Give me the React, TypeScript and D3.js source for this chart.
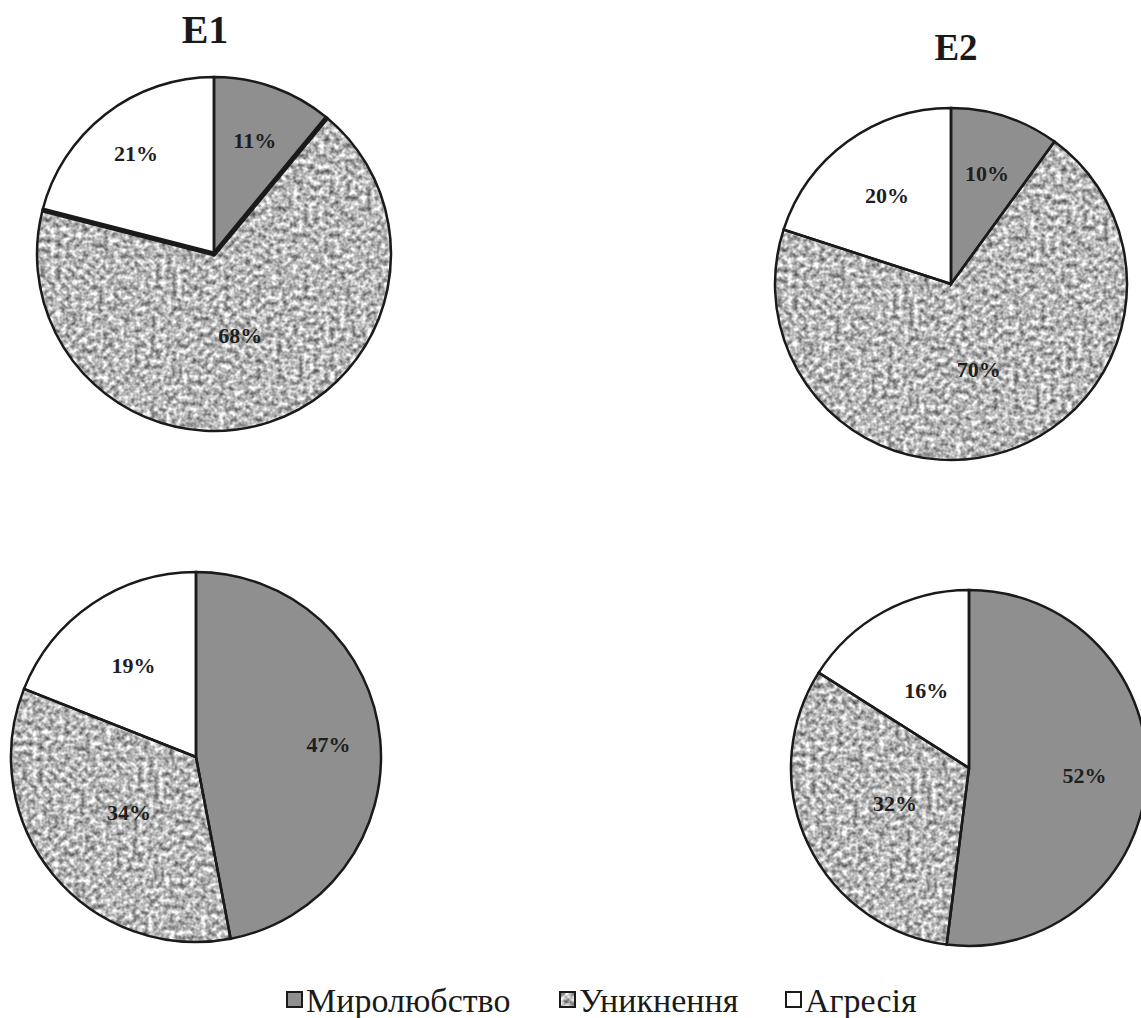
import * as d3 from "d3";
import React from "react";

// categories in drawing order (clockwise from 12 o'clock)
const categories = ["Миролюбство", "Уникнення", "Агресія"];
const titles = ["E1", "E2"];

// percentages per pie
const e1Top = [11, 68, 21];
const e2Top = [10, 70, 20];
const e1Bottom = [47, 34, 19];
const e2Bottom = [52, 32, 16];

const W = 1141;
const H = 1018;

const GREY = "#8f8f8f";
const SERIF = "Liberation Serif";

// placement of each pie on the page; lab = label distance as a share of the radius
const pies = [
  { values: e1Top, cx: 214, cy: 254, r: 177, heavy: true, lab: [0.68, 0.48, 0.72] },
  { values: e2Top, cx: 951, cy: 284, r: 176, heavy: false, lab: [0.66, 0.51, 0.62] },
  { values: e1Bottom, cx: 196, cy: 757, r: 185, heavy: false, lab: [0.72, 0.47, 0.6] },
  { values: e2Bottom, cx: 969, cy: 768, r: 178, heavy: false, lab: [0.65, 0.46, 0.5] },
];

const titlePos = [
  { x: 205, y: 43, size: 40 },
  { x: 956, y: 60, size: 37 },
];

function fillFor(i: number): string {
  if (i === 0) return GREY;
  if (i === 1) return "#b8b8b8";
  return "#ffffff";
}

function Pie({
  values,
  cx,
  cy,
  r,
  heavy,
  lab,
}: {
  values: number[];
  cx: number;
  cy: number;
  r: number;
  heavy: boolean;
  lab: number[];
}) {
  const arcs = d3.pie<number>().sort(null).value((d) => d)(values);
  const arc = d3.arc<d3.PieArcDatum<number>>().innerRadius(0).outerRadius(r);
  const mid = arcs[1];
  return (
    <g transform={`translate(${cx},${cy})`}>
      {arcs.map((a, i) =>
        i === 1 ? (
          <path key={`f-${i}`} d={arc(a) ?? ""} fill="#b8b8b8" filter="url(#granite)" />
        ) : (
          <path key={`f-${i}`} d={arc(a) ?? ""} fill={fillFor(i)} />
        )
      )}
      {arcs.map((a, i) => (
        <path key={`s-${i}`} d={arc(a) ?? ""} fill="none" stroke="#1a1a1a" strokeWidth={2.5} />
      ))}
      {heavy ? (
        <path
          d={`M${d3.pointRadial(mid.startAngle, r)}L0,0L${d3.pointRadial(mid.endAngle, r)}`}
          fill="none"
          stroke="#1a1a1a"
          strokeWidth={5}
          strokeLinejoin="miter"
        />
      ) : null}
      {arcs.map((a, i) => {
        const lr = r * lab[i];
        const [lx, ly] = d3
          .arc<d3.PieArcDatum<number>>()
          .innerRadius(lr)
          .outerRadius(lr)
          .centroid(a);
        return (
          <text
            key={`l-${i}`}
            x={lx}
            y={ly}
            dy="0.35em"
            textAnchor="middle"
            fontFamily={SERIF}
            fontWeight="bold"
            fontSize={22}
            fill="#1e1e1e"
          >
            {a.data}%
          </text>
        );
      })}
    </g>
  );
}

export default function App() {
  const legendX = [287, 560, 786];
  return (
    <svg width={W} height={H} style={{ position: "absolute", left: 0, top: 0, background: "#fff" }}>
      <defs>
        <filter id="granite" x="0" y="0" width="100%" height="100%" colorInterpolationFilters="sRGB">
          <feTurbulence type="fractalNoise" baseFrequency="0.19" numOctaves={2} seed={11} result="noise" />
          <feColorMatrix
            in="noise"
            type="matrix"
            values="1.1 0 0 0 0.17  1.1 0 0 0 0.17  1.1 0 0 0 0.17  0 0 0 0 1"
            result="grey"
          />
          <feComposite in="grey" in2="SourceAlpha" operator="in" />
        </filter>
      </defs>
      <rect width={W} height={H} fill="#fff" />
      {titles.map((t, i) => (
        <text
          key={t}
          x={titlePos[i].x}
          y={titlePos[i].y}
          textAnchor="middle"
          fontFamily={SERIF}
          fontWeight="bold"
          fontSize={titlePos[i].size}
          fill="#1a1a1a"
        >
          {t}
        </text>
      ))}
      {pies.map((p, i) => (
        <Pie key={i} {...p} />
      ))}
      {categories.map((c, i) => (
        <g key={c} transform={`translate(${legendX[i]},1000)`}>
          {i === 1 ? (
            <rect x={0} y={-8} width={15} height={15} fill="#c8c8c8" filter="url(#granite)" />
          ) : null}
          <rect
            x={0}
            y={-8}
            width={15}
            height={15}
            fill={i === 1 ? "none" : fillFor(i)}
            stroke="#1a1a1a"
            strokeWidth={2}
          />
          <text x={19} y={12} fontFamily={SERIF} fontSize={34} fill="#1a1a1a">
            {c}
          </text>
        </g>
      ))}
    </svg>
  );
}
